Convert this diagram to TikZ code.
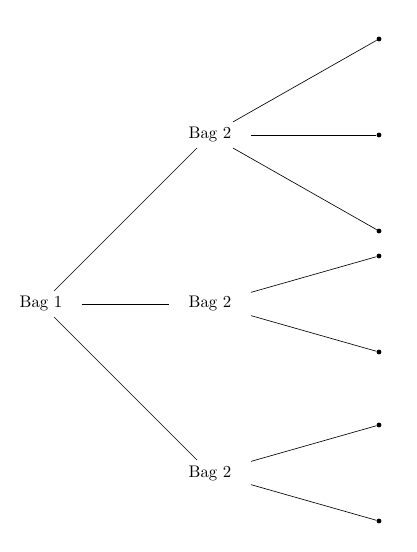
\documentclass[tikz,border=0pt]{standalone}
\usepackage{amssymb}
\usepackage{amsmath}
\usepackage{tikz}

\begin{document}
\begin{tikzpicture}[shorten >=0pt,-]
            \tikzstyle{bag}=[rectangle,inner xsep=12pt,inner ysep=3.3pt,font=\fontsize{10.4pt}{12pt}\selectfont]
            \tikzstyle{leaf}=[circle,fill=black,minimum size=3pt,inner sep=0pt]
            \useasboundingbox (-0.893,-5.404) rectangle (8.193,6.624);
                    \node[bag] (B-0) at (0, 0){Bag 1};

                    \node[bag] (B-1) at (3.683, 3.683){Bag 2};
                    \node[bag] (B-2) at (3.683, 0){Bag 2};
                    \node[bag] (B-3) at (3.683, -3.683){Bag 2};

                    \node[leaf] (L-1) at (7.365, 5.775){};
                    \node[leaf] (L-2) at (7.365, 3.683){};
                    \node[leaf] (L-3) at (7.365, 1.591){};

                    \node[leaf] (L-4) at (7.365, 1.046){};
                    \node[leaf] (L-5) at (7.365, -1.046){};

                    \node[leaf] (L-6) at (7.365, -2.637){};
                    \node[leaf] (L-7) at (7.365, -4.729){};

                \foreach \from/\to in {0/1, 0/2, 0/3}
                    \draw (B-\from) -- (B-\to);
                \foreach \from/\to in {1/1, 1/2, 1/3, 2/4, 2/5, 3/6, 3/7}
                    \draw (B-\from) -- (L-\to);
        \end{tikzpicture}
\end{document}
